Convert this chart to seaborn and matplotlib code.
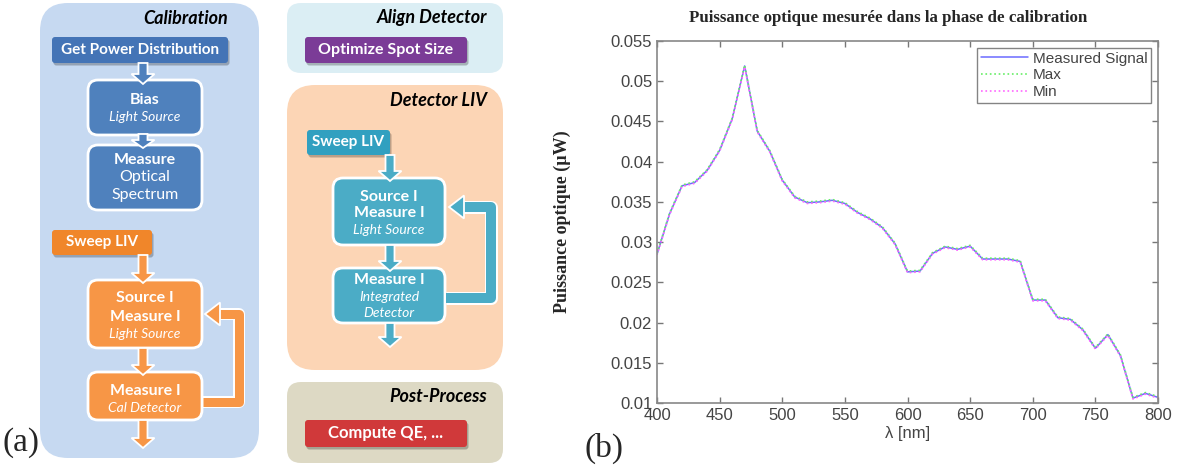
import matplotlib
matplotlib.use('Agg')
import matplotlib.pyplot as plt
import seaborn as sns
from matplotlib.patches import FancyBboxPatch, Polygon

# données du panneau (b)
wavelength = [400, 410, 420, 430, 440, 450, 460, 470, 480, 490,
              500, 510, 520, 530, 540, 550, 560, 570, 580, 590,
              600, 610, 620, 630, 640, 650, 660, 670, 680, 690,
              700, 710, 720, 730, 740, 750, 760, 770, 780, 790, 800]
measured = [0.0285, 0.0335, 0.0370, 0.0374, 0.0389, 0.0414, 0.0453, 0.0519, 0.0438, 0.0413,
            0.0377, 0.0356, 0.0349, 0.0350, 0.0352, 0.0348, 0.0337, 0.0329, 0.0318, 0.0298,
            0.0263, 0.0264, 0.0286, 0.0294, 0.0291, 0.0295, 0.0279, 0.0279, 0.0279, 0.0276,
            0.0228, 0.0228, 0.0206, 0.0204, 0.0191, 0.0168, 0.0185, 0.0159, 0.0106, 0.0112, 0.0107]
max_signal = [0.0286, 0.0336, 0.0371, 0.0375, 0.0390, 0.0415, 0.0454, 0.0520, 0.0439, 0.0414,
              0.0378, 0.0357, 0.0350, 0.0351, 0.0353, 0.0349, 0.0338, 0.0330, 0.0319, 0.0299,
              0.0264, 0.0265, 0.0287, 0.0295, 0.0292, 0.0296, 0.0280, 0.0280, 0.0280, 0.0277,
              0.0229, 0.0229, 0.0207, 0.0205, 0.0192, 0.0169, 0.0186, 0.0160, 0.0107, 0.0113, 0.0108]
min_signal = [0.0284, 0.0334, 0.0369, 0.0373, 0.0388, 0.0413, 0.0452, 0.0518, 0.0437, 0.0412,
              0.0376, 0.0355, 0.0348, 0.0349, 0.0351, 0.0347, 0.0336, 0.0328, 0.0317, 0.0297,
              0.0262, 0.0263, 0.0285, 0.0293, 0.0290, 0.0294, 0.0278, 0.0278, 0.0278, 0.0275,
              0.0227, 0.0227, 0.0205, 0.0203, 0.0190, 0.0167, 0.0184, 0.0158, 0.0105, 0.0111, 0.0106]
series_names = ['Measured Signal', 'Max', 'Min']
x_ticks = [400, 450, 500, 550, 600, 650, 700, 750, 800]
y_ticks = [0.01, 0.015, 0.02, 0.025, 0.03, 0.035, 0.04, 0.045, 0.05, 0.055]
y_tick_labels = ['0.01', '0.015', '0.02', '0.025', '0.03', '0.035', '0.04', '0.045', '0.05', '0.055']

sns.set_theme(style='white')
plt.rcParams['font.family'] = ['Liberation Sans', 'DejaVu Sans']

W, H = 1180, 469
fig = plt.figure(figsize=(W / 100, H / 100), dpi=100)

# ---------------- (a) organigramme ----------------
axd = fig.add_axes([0, 0, 530 / W, 1])
axd.set_xlim(0, 530)
axd.set_ylim(H, 0)
axd.axis('off')


def rbox(x0, y0, x1, y1, fc, r=8, ec='none', lw=0, z=1, shadow=False):
    if shadow:
        axd.add_patch(FancyBboxPatch((x0 + 1.5, y0 + 2.5), x1 - x0, y1 - y0,
                                     boxstyle=f'round,pad=0,rounding_size={r}',
                                     fc='black', ec='none', alpha=0.25, zorder=z - 0.1))
    axd.add_patch(FancyBboxPatch((x0, y0), x1 - x0, y1 - y0,
                                 boxstyle=f'round,pad=0,rounding_size={r}',
                                 fc=fc, ec=ec, lw=lw, zorder=z))


def txt(x, y, s, size=11.5, bold=True, italic=False, color='white'):
    axd.text(x, y, s, ha='center', va='center', color=color, fontsize=size,
             fontweight='bold' if bold else 'normal', style='italic' if italic else 'normal',
             family=['Lato', 'DejaVu Sans'], zorder=5)


def down_arrow(x, y0, y1, fc, w=9, hw=23, hl=10):
    pts = [(x - w / 2, y0), (x + w / 2, y0), (x + w / 2, y1 - hl), (x + hw / 2, y1 - hl),
           (x, y1), (x - hw / 2, y1 - hl), (x - w / 2, y1 - hl)]
    axd.add_patch(Polygon(pts, closed=True, fc=fc, ec='white', lw=1.3, zorder=4))


def loop_arrow(x0, yb, xr, yt, xtip, fc, w=9, hw=23, hl=14):
    xs = [x0, xr, xr, xtip + hl]
    ys = [yb, yb, yt, yt]
    axd.plot(xs, ys, color='white', lw=(w + 3) * 0.72, solid_joinstyle='round',
             solid_capstyle='butt', zorder=3)
    axd.plot(xs, ys, color=fc, lw=w * 0.72, solid_joinstyle='round',
             solid_capstyle='butt', zorder=3.1)
    pts = [(xtip + hl + 1, yt - hw / 2), (xtip, yt), (xtip + hl + 1, yt + hw / 2)]
    axd.add_patch(Polygon(pts, closed=True, fc=fc, ec='white', lw=1.3, zorder=3.2))


# fonds
rbox(40, 3, 259, 458, '#c6d9f1', r=28, z=0.5)
rbox(287, 3, 503, 73, '#dbeef4', r=14, z=0.5)
rbox(287, 85, 503, 370, '#fcd5b5', r=28, z=0.5)
rbox(287, 382, 503, 463, '#ddd9c4', r=14, z=0.5)

for x, y, s in [(228, 18, 'Calibration'), (487, 18, 'Align Detector'),
                (487, 100, 'Detector LIV'), (487, 397, 'Post-Process')]:
    axd.text(x, y, s, ha='right', va='center', fontsize=13, fontweight='bold',
             style='italic', family=['Lato', 'DejaVu Sans'], color='black')

# boutons
rbox(52, 37, 228, 63, '#4474b6', r=3, z=2, shadow=True)
txt(140, 50, 'Get Power Distribution', size=11)
rbox(52, 230, 152, 255, '#f0862a', r=3, z=2, shadow=True)
txt(102, 242, 'Sweep LIV', size=11)
rbox(305, 37, 467, 63, '#7b3c97', r=3, z=2, shadow=True)
txt(386, 50, 'Optimize Spot Size', size=11.5)
rbox(307, 130, 390, 155, '#31a0c0', r=3, z=2, shadow=True)
txt(348, 142, 'Sweep LIV', size=11)
rbox(305, 420, 467, 447, '#d0393a', r=3, z=2, shadow=True)
txt(386, 433, 'Compute QE, ...', size=12)

# boîtes calibration
blue, orange, teal = '#4f81bd', '#f79646', '#4bacc6'
rbox(88, 80, 202, 135, blue, r=10, ec='white', lw=2, z=2)
txt(145, 100, 'Bias')
txt(145, 117, 'Light Source', size=10, bold=False, italic=True)
rbox(88, 145, 202, 210, blue, r=10, ec='white', lw=2, z=2)
txt(145, 160, 'Measure')
txt(145, 177, 'Optical', bold=False)
txt(145, 195, 'Spectrum', bold=False)
rbox(88, 280, 202, 348, orange, r=10, ec='white', lw=2, z=2)
txt(145, 298, 'Source I')
txt(145, 317, 'Measure I')
txt(145, 334, 'Light Source', size=10, bold=False, italic=True)
rbox(88, 372, 202, 420, orange, r=10, ec='white', lw=2, z=2)
txt(145, 391, 'Measure I')
txt(145, 408, 'Cal Detector', size=10, bold=False, italic=True)

down_arrow(143, 63, 84, blue)
down_arrow(143, 134, 148, blue, hl=8)
down_arrow(143, 255, 283, orange)
down_arrow(143, 348, 375, orange)
down_arrow(143, 420, 448, orange)
loop_arrow(203, 402, 239, 314, 205, orange)

# boîtes detector LIV
rbox(333, 178, 445, 245, teal, r=10, ec='white', lw=2, z=2)
txt(389, 197, 'Source I')
txt(389, 213, 'Measure I')
txt(389, 230, 'Light Source', size=10, bold=False, italic=True)
rbox(333, 268, 445, 323, teal, r=10, ec='white', lw=2, z=2)
txt(389, 280, 'Measure I')
txt(389, 297, 'Integrated', size=10, bold=False, italic=True)
txt(389, 313, 'Detector', size=10, bold=False, italic=True)

down_arrow(390, 155, 181, teal)
down_arrow(390, 245, 271, teal)
down_arrow(390, 323, 347, teal)
loop_arrow(446, 298, 491, 207, 449, teal, w=10)

fig.text(3 / W, 1 - 443 / H, '(a)', fontsize=24, family='Liberation Serif', va='center', ha='left')

# ---------------- (b) courbe ----------------
ax = fig.add_axes([657 / W, 1 - 403 / H, (1158 - 657) / W, (403 - 41) / H])
sns.lineplot(x=wavelength, y=measured, ax=ax, color='#6b6bff', lw=1.1, label=series_names[0])
sns.lineplot(x=wavelength, y=max_signal, ax=ax, color='#66ee66', lw=1.2, ls=':', label=series_names[1])
sns.lineplot(x=wavelength, y=min_signal, ax=ax, color='#ff66ff', lw=1.2, ls=':', label=series_names[2])

ax.set_xlim(400, 800)
ax.set_ylim(0.01, 0.055)
ax.set_xticks(x_ticks)
ax.set_yticks(y_ticks)
ax.set_yticklabels(y_tick_labels)
ax.tick_params(direction='in', length=4, width=1, color='#777777', labelcolor='#444444',
               labelsize=12, top=True, right=True, bottom=True, left=True)
for sp in ax.spines.values():
    sp.set_color('#888888')
    sp.set_linewidth(1.2)

ax.set_xlabel('λ [nm]', fontsize=12, color='#444444')
ax.xaxis.set_label_coords(0.5, -0.064)
ax.set_ylabel('Puissance optique (µW)', fontsize=13, fontweight='bold', family='Liberation Serif')
ax.yaxis.set_label_coords(-0.172, 0.5)

leg = ax.legend(loc='upper right', fancybox=False, frameon=True, edgecolor='#666666',
                fontsize=11, handlelength=3.1, borderaxespad=0.45, labelspacing=0.18,
                handletextpad=0.3, borderpad=0.25)
leg.get_frame().set_linewidth(1.0)
for t in leg.get_texts():
    t.set_color('#444444')

fig.text(888 / W, 1 - 18 / H, 'Puissance optique mesurée dans la phase de calibration',
         fontsize=12.2, fontweight='bold', family='Liberation Serif', ha='center', va='center')
fig.text(585 / W, 1 - 448 / H, '(b)', fontsize=24, family='Liberation Serif', va='center', ha='left')

fig.savefig('out.png', dpi=100)
